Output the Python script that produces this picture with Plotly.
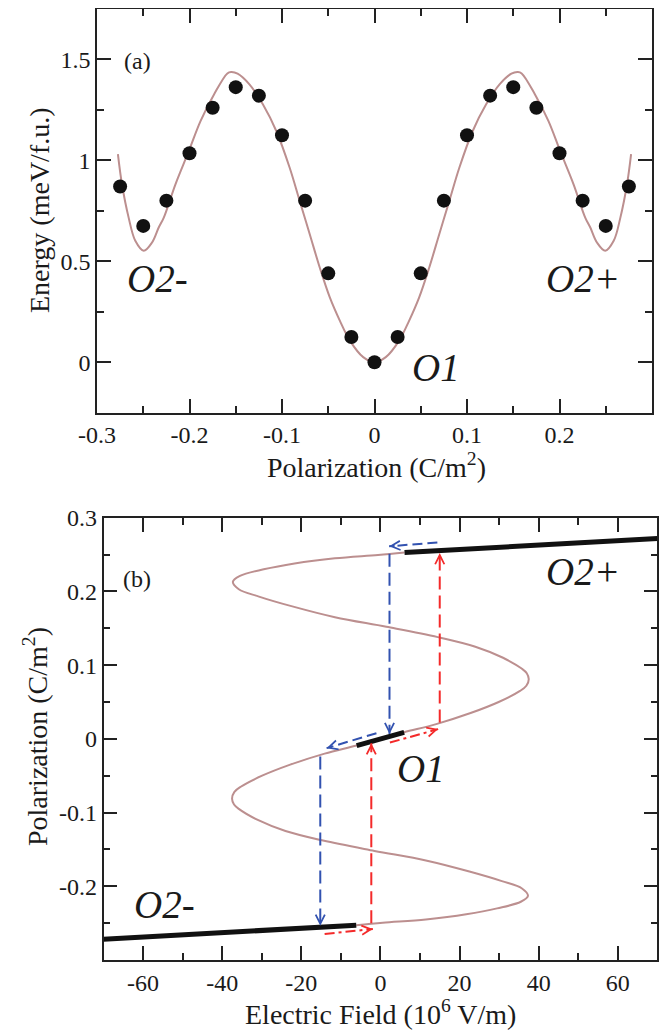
import plotly.graph_objects as go

# ---------------- Panel (a): energy vs polarization ----------------
dot_P = [-0.275, -0.25, -0.225, -0.2, -0.175, -0.15, -0.125, -0.1, -0.075, -0.05, -0.025, 0.0,
         0.025, 0.05, 0.075, 0.1, 0.125, 0.15, 0.175, 0.2, 0.225, 0.25, 0.275]
dot_E = [0.87, 0.675, 0.80, 1.035, 1.26, 1.362, 1.32, 1.124, 0.80, 0.44, 0.125, 0.0,
         0.125, 0.44, 0.80, 1.124, 1.32, 1.362, 1.26, 1.035, 0.80, 0.675, 0.87]

fit_P = [-0.2774, -0.2730, -0.2658, -0.2586, -0.2495, -0.2405, -0.2333, -0.2278, -0.2152,
         -0.2007, -0.1881, -0.1735, -0.1591, -0.1550, -0.1480, -0.1352, -0.1207, -0.1062,
         -0.0917, -0.0809, -0.0700, -0.0592, -0.0483, -0.0375, -0.0266, -0.0122, 0.0,
         0.0122, 0.0266, 0.0375, 0.0483, 0.0592, 0.0700, 0.0809, 0.0917, 0.1062, 0.1207,
         0.1352, 0.1480, 0.1550, 0.1591, 0.1735, 0.1881, 0.2007, 0.2152, 0.2278, 0.2333,
         0.2405, 0.2495, 0.2586, 0.2658, 0.2730, 0.2774]
fit_E = [1.030, 0.881, 0.716, 0.601, 0.552, 0.593, 0.667, 0.716, 0.881,
         1.046, 1.194, 1.326, 1.430, 1.437, 1.429, 1.376, 1.277, 1.145,
         0.963, 0.799, 0.634, 0.469, 0.321, 0.206, 0.107, 0.025, 0.0,
         0.025, 0.107, 0.206, 0.321, 0.469, 0.634, 0.799, 0.963, 1.145, 1.277,
         1.376, 1.429, 1.437, 1.430, 1.326, 1.194, 1.046, 0.881, 0.716, 0.667,
         0.593, 0.552, 0.601, 0.716, 0.881, 1.030]

a_xticks = [-0.3, -0.2, -0.1, 0.0, 0.1, 0.2]
a_xtext = ["-0.3", "-0.2", "-0.1", "0", "0.1", "0.2"]
a_yticks = [0, 0.5, 1, 1.5]
a_ytext = ["0", "0.5", "1", "1.5"]

# ---------------- Panel (b): polarization vs field ----------------
sc_P = [-0.2528, -0.2495, -0.245, -0.238, -0.230, -0.221, -0.213, -0.203, -0.193, -0.180,
        -0.165, -0.152, -0.138, -0.125, -0.110, -0.095, -0.089, -0.081, -0.072, -0.065,
        -0.050, -0.035, -0.020, -0.009, 0.0,
        0.009, 0.020, 0.035, 0.050, 0.065, 0.072, 0.081, 0.089, 0.095, 0.110, 0.125,
        0.138, 0.152, 0.165, 0.180, 0.193, 0.203, 0.213, 0.221, 0.230, 0.238, 0.245,
        0.2495, 0.2528]
sc_E = [-6.1, 0.6, 11.5, 21.7, 29.5, 35.5, 37.3, 35.8, 30.7, 22.5,
        11.5, -1.5, -14.5, -24.0, -31.0, -35.8, -37.0, -37.5, -36.9, -35.3,
        -29.9, -22.8, -14.1, -6.0, 0.0,
        6.0, 14.1, 22.8, 29.9, 35.3, 36.9, 37.5, 37.0, 35.8, 31.0, 24.0,
        14.5, 1.5, -11.5, -22.5, -30.7, -35.8, -37.3, -35.5, -29.5, -21.7, -11.5,
        -0.6, 6.1]

o2p_E = [6.1, 70.0]
o2p_P = [0.2528, 0.2718]
o2m_E = [-70.0, -6.1]
o2m_P = [-0.2718, -0.2528]
o1_E = [-6.0, 6.0]
o1_P = [-0.0092, 0.0088]

# switching paths: tail E, tail P, tip E, tip P
blue_E0 = [14.4, 2.3, -1.0, -15.2]
blue_P0 = [0.2664, 0.2510, 0.0077, -0.0240]
blue_E1 = [2.2, 2.3, -13.6, -15.2]
blue_P1 = [0.2612, 0.0065, -0.0126, -0.2537]
blue_dash = ["10px,5px", "13px,6px", "10px,5px", "13px,6px"]

red_E0 = [-14.1, -2.3, 2.4, 15.0]
red_P0 = [-0.2646, -0.2500, -0.0050, 0.0221]
red_E1 = [-1.9, -2.3, 14.6, 15.0]
red_P1 = [-0.2580, -0.0060, 0.0132, 0.2520]
red_dash = ["10px,4px,3px,4px", "13px,6px", "10px,4px,3px,4px", "13px,6px"]

b_xticks = [-60, -40, -20, 0, 20, 40, 60]
b_xtext = ["-60", "-40", "-20", "0", "20", "40", "60"]
b_yticks = [-0.2, -0.1, 0.0, 0.1, 0.2, 0.3]
b_ytext = ["-0.2", "-0.1", "0", "0.1", "0.2", "0.3"]

FONT = "Liberation Serif"
TXT = "#1a1a1a"
AX = "#222222"
BROWN = "#bc8f8f"
BLUE = "#3252b0"
RED = "#f42a2a"

# page body adds an 8px offset; figure is sized to fill the rest of the window
W, H, OFF = 660, 1025, 8


def px(xs):
    return (xs - OFF) / W


def py(ys):
    return 1 - (ys - OFF) / H


fig = go.Figure()

fig.add_trace(go.Scatter(x=fit_P, y=fit_E, mode="lines", line=dict(color=BROWN, width=2, shape="spline"),
                         xaxis="x", yaxis="y", showlegend=False))
fig.add_trace(go.Scatter(x=dot_P, y=dot_E, mode="markers", marker=dict(color="#111111", size=14),
                         xaxis="x", yaxis="y", showlegend=False))

fig.add_trace(go.Scatter(x=sc_E, y=sc_P, mode="lines", line=dict(color=BROWN, width=2, shape="spline"),
                         xaxis="x2", yaxis="y2", showlegend=False))
for ex, pp in [(o2p_E, o2p_P), (o2m_E, o2m_P), (o1_E, o1_P)]:
    fig.add_trace(go.Scatter(x=ex, y=pp, mode="lines", line=dict(color="#111111", width=5),
                             xaxis="x2", yaxis="y2", showlegend=False))

annotations = []
PX_E = 552.0 / 140.0   # px per field unit (for arrowhead back-off only)
PX_P = 442.0 / 0.6     # px per polarization unit


def add_arrow(e0, p0, e1, p1, color, dash):
    fig.add_trace(go.Scatter(x=[e0, e1], y=[p0, p1], mode="lines",
                             line=dict(color=color, width=2, dash=dash),
                             xaxis="x2", yaxis="y2", showlegend=False))
    dxp = (e1 - e0) * PX_E
    dyp = (p1 - p0) * PX_P
    length = (dxp ** 2 + dyp ** 2) ** 0.5
    f = 7.0 / length
    annotations.append(dict(x=e1, y=p1, ax=e1 - (e1 - e0) * f, ay=p1 - (p1 - p0) * f,
                            xref="x2", yref="y2", axref="x2", ayref="y2", text="",
                            showarrow=True, arrowhead=5, arrowsize=1.0, arrowwidth=1.8,
                            arrowcolor=color, standoff=0))


for i in range(4):
    add_arrow(blue_E0[i], blue_P0[i], blue_E1[i], blue_P1[i], BLUE, blue_dash[i])
    add_arrow(red_E0[i], red_P0[i], red_E1[i], red_P1[i], RED, red_dash[i])

big = dict(family=FONT, size=39, color=TXT)
small = dict(family=FONT, size=24, color=TXT)
title_font = dict(family=FONT, size=28, color=TXT)
C = dict(showarrow=False, xanchor="center", yanchor="middle")
annotations += [
    dict(x=-0.256, y=1.49, xref="x", yref="y", text="(a)", font=small, **C),
    dict(x=-0.235, y=0.415, xref="x", yref="y", text="<i>O2-</i>", font=big, **C),
    dict(x=0.225, y=0.415, xref="x", yref="y", text="<i>O2+</i>", font=big, **C),
    dict(x=0.067, y=-0.028, xref="x", yref="y", text="<i>O1</i>", font=big, **C),
    dict(x=-61.5, y=0.2174, xref="x2", yref="y2", text="(b)", font=small, **C),
    dict(x=51.2, y=0.227, xref="x2", yref="y2", text="<i>O2+</i>", font=big, **C),
    dict(x=-54.5, y=-0.2245, xref="x2", yref="y2", text="<i>O2-</i>", font=big, **C),
    dict(x=10.2, y=-0.0406, xref="x2", yref="y2", text="<i>O1</i>", font=big, **C),
    # axis titles
    dict(x=px(376), y=py(466), xref="paper", yref="paper", text="Polarization (C/m<sup>2</sup>)",
         font=title_font, **C),
    dict(x=px(40), y=py(210), xref="paper", yref="paper", text="Energy (meV/f.u.)",
         textangle=-90, font=title_font, **C),
    dict(x=px(380.5), y=py(1012), xref="paper", yref="paper",
         text="Electric Field (10<sup>6</sup> V/m)", font=title_font, **C),
    dict(x=px(35), y=py(737), xref="paper", yref="paper", text="Polarization (C/m<sup>2</sup>)",
         textangle=-90, font=title_font, **C),
]


def axis_style(rng, tickvals, ticktext, minor_dtick, domain, anchor):
    return dict(range=rng, domain=domain, anchor=anchor, automargin=False,
                showline=True, linecolor=AX, linewidth=1.6,
                mirror="ticks", ticks="inside", ticklen=14, tickwidth=1.5, tickcolor=AX,
                tickmode="array", tickvals=tickvals, ticktext=ticktext,
                tickfont=dict(family=FONT, size=24, color=TXT),
                showgrid=False, zeroline=False,
                minor=dict(ticks="inside", ticklen=7, tickwidth=1.5, tickcolor=AX,
                           dtick=minor_dtick, tick0=0, showgrid=False))


fig.update_layout(
    width=W, height=H, autosize=False,
    margin=dict(l=0, r=0, t=0, b=0, pad=0, autoexpand=False),
    paper_bgcolor="white", plot_bgcolor="white", showlegend=False,
    xaxis=axis_style([-0.3, 0.3], a_xticks, a_xtext, 0.05, [px(97), px(652)], "y"),
    yaxis=axis_style([-0.25, 1.75], a_yticks, a_ytext, 0.25, [py(412.7), 1 - 0.8 / H], "x"),
    xaxis2=axis_style([-70, 70], b_xticks, b_xtext, 10, [px(103.5), px(657.3)], "y2"),
    yaxis2=axis_style([-0.3, 0.3], b_yticks, b_ytext, 0.05, [py(960), py(517.7)], "x2"),
    annotations=annotations,
)

fig.write_html("out.html")
